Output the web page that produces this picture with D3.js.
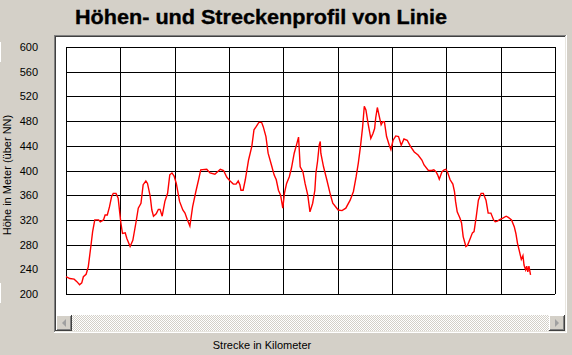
<!DOCTYPE html>
<html>
<head>
<meta charset="utf-8">
<script src="https://cdn.jsdelivr.net/npm/d3@7"></script>
<style>
  html, body { margin: 0; padding: 0; background: #D4D0C8; }
  svg { display: block; }
</style>
</head>
<body>
<svg id="chart" width="572" height="355"></svg>
<script>
const title = "Höhen- und Streckenprofil von Linie";
const yTitle = "Höhe in Meter (über NN)";
const xTitle = "Strecke in Kilometer";
const yTicks = [200, 240, 280, 320, 360, 400, 440, 480, 520, 560, 600];
const xTicks = [0, 10, 20, 30, 40, 50, 60, 70, 80, 90];

const km = [0,0.7,1.5,2.0,2.5,2.9,3.2,3.7,4.1,4.6,4.9,5.3,6.0,6.3,6.9,7.2,7.6,8.0,8.4,8.7,9.2,9.6,9.9,10.1,10.4,10.9,11.2,11.8,12.3,12.9,13.3,13.8,14.2,14.7,15.0,15.5,15.8,16.1,16.6,17.0,17.3,17.7,18.2,18.7,19.1,19.5,19.9,20.3,20.9,21.5,21.9,22.3,22.8,23.3,23.9,24.4,24.8,25.9,26.5,27.4,28.4,29.0,29.6,30.2,30.8,31.3,31.7,32.0,32.2,32.6,33.0,33.3,33.6,34.2,34.6,35.0,35.5,36.0,36.3,36.8,37.2,37.9,38.3,38.7,39.1,39.5,39.9,40.2,40.6,41.1,41.5,42.0,42.5,42.8,42.9,43.1,43.6,44.0,44.5,44.9,45.4,45.8,46.0,46.3,46.6,46.8,46.9,47.4,48.0,48.6,49.1,50.1,50.8,51.5,52.3,52.9,53.4,53.8,54.2,54.6,54.9,55.2,55.6,56.1,56.5,56.8,57.0,57.3,57.7,58.0,58.3,58.6,59.0,59.5,59.8,60.2,60.7,61.2,61.7,62.2,62.8,63.4,64.1,64.8,65.5,65.9,66.7,67.3,67.7,68.1,68.4,68.7,69.2,69.6,69.9,70.2,70.7,71.2,71.5,71.7,72.0,72.5,72.8,73.1,73.6,73.9,74.4,74.8,75.1,75.5,75.9,76.4,76.8,77.3,77.7,78.2,78.7,79.0,79.4,79.9,80.4,81.0,81.4,82.0,82.5,82.8,83.1,83.4,83.8,84.1,84.3,84.6,84.8,85.0,85.2,85.5];
const hoehe = [228,225,224,220,215,218,228,232,244,279,301,320,320,317,320,328,328,341,358,363,363,355,331,315,298,299,290,277,287,317,339,347,377,383,379,358,336,326,330,337,337,326,350,363,393,396,391,379,350,336,331,321,310,341,366,385,401,402,396,394,402,400,389,383,378,378,383,377,368,368,385,401,417,439,466,471,478,478,471,455,428,406,393,385,368,360,339,363,379,390,404,428,444,454,439,406,398,379,360,333,347,368,396,415,441,447,428,406,385,363,347,336,335,339,352,366,390,412,439,471,504,498,476,452,460,468,485,502,486,474,479,479,455,441,434,449,456,455,441,451,449,439,430,425,417,409,400,400,401,398,393,386,398,401,402,398,385,378,366,350,333,323,315,293,277,279,290,299,301,325,352,363,363,352,331,331,320,317,318,321,323,326,324,320,309,298,282,271,256,262,247,239,245,236,245,231,228];

const svg = d3.select("#chart");
const W = 572, H = 355;

// Background
svg.append("rect").attr("width", W).attr("height", H).attr("fill", "#D4D0C8");

// Small white strips at left edge
svg.append("rect").attr("x", 0).attr("y", 42).attr("width", 1).attr("height", 20).attr("fill", "#fff");
svg.append("rect").attr("x", 0).attr("y", 283).attr("width", 1).attr("height", 20).attr("fill", "#fff");

// Title
svg.append("text")
  .attr("x", 75).attr("y", 24)
  .attr("font-family", "Liberation Sans, Arial, sans-serif")
  .attr("font-weight", "bold")
  .attr("font-size", 20)
  .attr("textLength", 372)
  .attr("lengthAdjust", "spacingAndGlyphs")
  .attr("fill", "#000")
  .attr("stroke", "#000")
  .attr("stroke-width", 0.35)
  .text(title);

// Panel (sunken)
const px0 = 54, py0 = 35, px1 = 567, py1 = 333;
svg.append("rect").attr("x", px0).attr("y", py0).attr("width", px1 - px0).attr("height", py1 - py0).attr("fill", "#fff");
svg.append("rect").attr("x", px0).attr("y", py0).attr("width", px1 - px0 - 1).attr("height", 1).attr("fill", "#808080");
svg.append("rect").attr("x", px0).attr("y", py0).attr("width", 1).attr("height", py1 - py0 - 1).attr("fill", "#808080");
svg.append("rect").attr("x", px0 + 1).attr("y", py0 + 1).attr("width", px1 - px0 - 3).attr("height", 1).attr("fill", "#404040");
svg.append("rect").attr("x", px0 + 1).attr("y", py0 + 1).attr("width", 1).attr("height", py1 - py0 - 3).attr("fill", "#404040");
svg.append("rect").attr("x", px0).attr("y", py1 - 1).attr("width", px1 - px0).attr("height", 1).attr("fill", "#fff");
svg.append("rect").attr("x", px1 - 1).attr("y", py0).attr("width", 1).attr("height", py1 - py0).attr("fill", "#fff");
svg.append("rect").attr("x", px0 + 1).attr("y", py1 - 2).attr("width", px1 - px0 - 2).attr("height", 1).attr("fill", "#E8E6E0");
svg.append("rect").attr("x", px1 - 2).attr("y", py0 + 1).attr("width", 1).attr("height", py1 - py0 - 2).attr("fill", "#E8E6E0");

// Scales
const x = d3.scaleLinear().domain([0, 90]).range([66, 555]);
const y = d3.scaleLinear().domain([200, 600]).range([294, 47]);

// Grid
const grid = svg.append("g").attr("shape-rendering", "crispEdges");
grid.selectAll("line.h").data(yTicks).join("line")
  .attr("x1", x(0)).attr("x2", x(90))
  .attr("y1", d => Math.round(y(d)) + 0.5).attr("y2", d => Math.round(y(d)) + 0.5)
  .attr("stroke", "#000").attr("stroke-width", 1);
grid.selectAll("line.v").data(xTicks.concat([90])).join("line")
  .attr("y1", y(200)).attr("y2", y(600))
  .attr("x1", d => Math.round(x(d)) + 0.5).attr("x2", d => Math.round(x(d)) + 0.5)
  .attr("stroke", "#000").attr("stroke-width", 1);

// Y axis tick labels
const yAxis = d3.axisLeft(y).tickValues(yTicks).tickSize(0).tickPadding(0).tickFormat(d3.format("d"));
const gy = svg.append("g").attr("transform", "translate(38,0)").call(yAxis);
gy.select(".domain").remove();
gy.selectAll("text")
  .attr("font-family", "Liberation Sans, Arial, sans-serif")
  .attr("font-size", 11)
  .attr("fill", "#000");

// Axis titles
svg.append("text")
  .attr("transform", "translate(11,175) rotate(-90)")
  .attr("text-anchor", "middle")
  .attr("font-family", "Liberation Sans, Arial, sans-serif")
  .attr("font-size", 11)
  .attr("fill", "#000")
  .text(yTitle);
svg.append("text")
  .attr("x", 262).attr("y", 349)
  .attr("text-anchor", "middle")
  .attr("font-family", "Liberation Sans, Arial, sans-serif")
  .attr("font-size", 11)
  .attr("fill", "#000")
  .text(xTitle);

// Profile line
const pts = km.map((k, i) => [k, hoehe[i]]);
svg.append("path")
  .datum(pts)
  .attr("d", d3.line().x(d => x(d[0])).y(d => y(d[1])))
  .attr("fill", "none")
  .attr("stroke", "#FF0000")
  .attr("stroke-width", 1.4)
  .attr("stroke-linejoin", "miter");

// Scrollbar
const defs = svg.append("defs");
const pat = defs.append("pattern").attr("id", "dither").attr("width", 2).attr("height", 2).attr("patternUnits", "userSpaceOnUse");
pat.append("rect").attr("width", 2).attr("height", 2).attr("fill", "#fff");
pat.append("rect").attr("width", 1).attr("height", 1).attr("fill", "#D4D0C8");
pat.append("rect").attr("x", 1).attr("y", 1).attr("width", 1).attr("height", 1).attr("fill", "#D4D0C8");

const sbY = 315, sbH = 16, sbX0 = 56, sbX1 = 565;
svg.append("rect").attr("x", sbX0).attr("y", sbY).attr("width", sbX1 - sbX0).attr("height", sbH).attr("fill", "url(#dither)");

function button(bx, dir) {
  const g = svg.append("g").attr("shape-rendering", "crispEdges");
  g.append("rect").attr("x", bx).attr("y", sbY).attr("width", 16).attr("height", sbH).attr("fill", "#404040");
  g.append("rect").attr("x", bx).attr("y", sbY).attr("width", 15).attr("height", sbH - 1).attr("fill", "#fff");
  g.append("rect").attr("x", bx + 1).attr("y", sbY + 1).attr("width", 14).attr("height", sbH - 2).attr("fill", "#808080");
  g.append("rect").attr("x", bx + 1).attr("y", sbY + 1).attr("width", 13).attr("height", sbH - 3).attr("fill", "#D4D0C8");
  const cx = bx + 8, cy = sbY + 8;
  const tri = dir < 0
    ? [[cx + 2, cy - 4], [cx + 2, cy + 4], [cx - 2, cy]]
    : [[cx - 2, cy - 4], [cx - 2, cy + 4], [cx + 2, cy]];
  g.append("path").attr("d", d3.line()(tri) + "Z").attr("fill", "#A0A0A0").attr("shape-rendering", "auto");
}
button(sbX0, -1);
button(sbX1 - 16, 1);
</script>
</body>
</html>
